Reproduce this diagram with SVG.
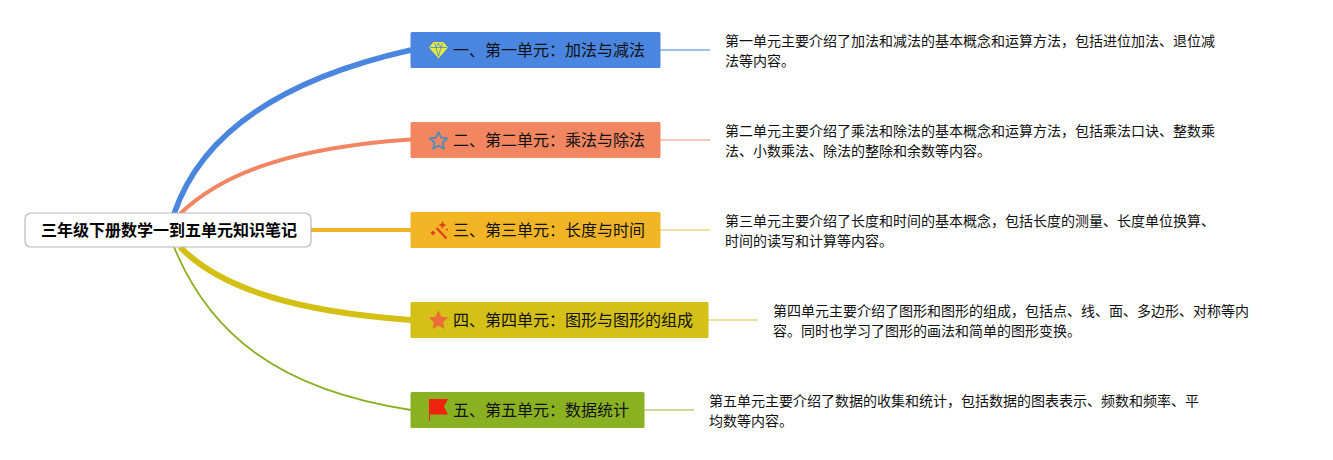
<svg xmlns="http://www.w3.org/2000/svg" width="1333" height="460" viewBox="0 0 1333 460">
<style>
text{font-family:"Noto Sans CJK SC","Liberation Sans",sans-serif;fill:#111}
.t{font-size:16px}
.n{font-size:14px}
.r{font-size:16px;font-weight:700;fill:#000}
.c{fill:none;stroke-linecap:butt}
</style>
<rect width="1333" height="460" fill="#fff"/>
<g id="connectors">
<path class="c" d="M174 214C205 122 300 75 411 50" stroke="#4a86e0" stroke-width="5.500"/>
<path class="c" d="M180 214C225 170 300 147 411 139.500" stroke="#f28663" stroke-width="4"/>
<path class="c" d="M311 230H411" stroke="#f0b429" stroke-width="4"/>
<path class="c" d="M180 247C222 290 300 312 411 320" stroke="#d4c015" stroke-width="6"/>
<path class="c" d="M174 247C210 335 280 390 411 410" stroke="#8ab022" stroke-width="1.800"/>
<path class="c" d="M660 50H710" stroke="#9dc2ea" stroke-width="2"/>
<path class="c" d="M660 140H710" stroke="#f7c8b2" stroke-width="2"/>
<path class="c" d="M660 230H710" stroke="#f1e0a0" stroke-width="2"/>
<path class="c" d="M708 320H758" stroke="#e9e29a" stroke-width="2"/>
<path class="c" d="M644 410H694" stroke="#cddb98" stroke-width="2"/>
</g>
<g id="root">
<rect x="25" y="213" width="286" height="34" rx="6" fill="#fff" stroke="#b8b8b8" stroke-width="1.200"/>
<text class="r" x="41" y="236">三年级下册数学一到五单元知识笔记</text>
</g>
<g id="node1">
<rect x="410.500" y="32" width="250" height="36" rx="1.500" fill="#4a86e0"/>
<path d="M433.500 42H443.500L448 47.500L438.500 58.500L429 47.500Z" fill="#e6ea3c"/>
<path d="M430 47.500H447M434.500 43L436 47.500L438.500 56.500L441 47.500L442.500 43M436 47.500L438.500 43L441 47.500" fill="none" stroke="#4a86e0" stroke-width=".8"/>
<text class="t" x="453" y="56">一、第一单元：加法与减法</text>
</g>
<g id="note1">
<text class="n" x="725" y="46">第一单元主要介绍了加法和减法的基本概念和运算方法，包括进位加法、退位减</text>
<text class="n" x="725" y="66">法等内容。</text>
</g>
<g id="node2">
<rect x="410.500" y="122" width="250" height="36" rx="1.500" fill="#f28660"/>
<path d="M438.500 132L441 137.600L447.300 138.300L442.600 142.500L443.900 148.700L438.500 145.500L433.100 148.700L434.400 142.500L429.700 138.300L436 137.600Z" fill="none" stroke="#4a8bc2" stroke-width="1.700" stroke-linejoin="round"/>
<text class="t" x="453" y="146">二、第二单元：乘法与除法</text>
</g>
<g id="note2">
<text class="n" x="725" y="136">第二单元主要介绍了乘法和除法的基本概念和运算方法，包括乘法口诀、整数乘</text>
<text class="n" x="725" y="156">法、小数乘法、除法的整除和余数等内容。</text>
</g>
<g id="node3">
<rect x="410.500" y="212" width="250" height="36" rx="1.500" fill="#f2b526"/>
<path d="M436.500 228L446.500 238.500" stroke="#e2401c" stroke-width="2.400" fill="none"/>
<path d="M433 230.500l2.500 2.500l-2.500 2.500l-2.500-2.500zM442.500 221l1.300 2.700l2.700 1.300l-2.700 1.300l-1.300 2.700l-1.300-2.700l-2.700-1.300l2.700-1.300zM447 228.500l1.200 1.200l-1.200 1.200l-1.200-1.200z" fill="#e2401c"/>
<text class="t" x="453" y="236">三、第三单元：长度与时间</text>
</g>
<g id="note3">
<text class="n" x="725" y="226">第三单元主要介绍了长度和时间的基本概念，包括长度的测量、长度单位换算、</text>
<text class="n" x="725" y="246">时间的读写和计算等内容。</text>
</g>
<g id="node4">
<rect x="410.500" y="302" width="298" height="36" rx="1.500" fill="#d4c016"/>
<path d="M438.500 310.500L441.400 316.800L448.200 317.600L443.100 322.300L444.500 329L438.500 325.600L432.500 329L433.900 322.300L428.800 317.600L435.600 316.800Z" fill="#ee6c3a"/>
<text class="t" x="453" y="326">四、第四单元：图形与图形的组成</text>
</g>
<g id="note4">
<text class="n" x="773" y="316">第四单元主要介绍了图形和图形的组成，包括点、线、面、多边形、对称等内</text>
<text class="n" x="773" y="336">容。同时也学习了图形的画法和简单的图形变换。</text>
</g>
<g id="node5">
<rect x="410.500" y="392" width="234" height="36" rx="1.500" fill="#8ab122"/>
<path d="M429 399H448L444 406.500L448 414.500H430V421H429Z" fill="#f0240e"/>
<text class="t" x="453" y="416">五、第五单元：数据统计</text>
</g>
<g id="note5">
<text class="n" x="709" y="406">第五单元主要介绍了数据的收集和统计，包括数据的图表表示、频数和频率、平</text>
<text class="n" x="709" y="426">均数等内容。</text>
</g>
</svg>
